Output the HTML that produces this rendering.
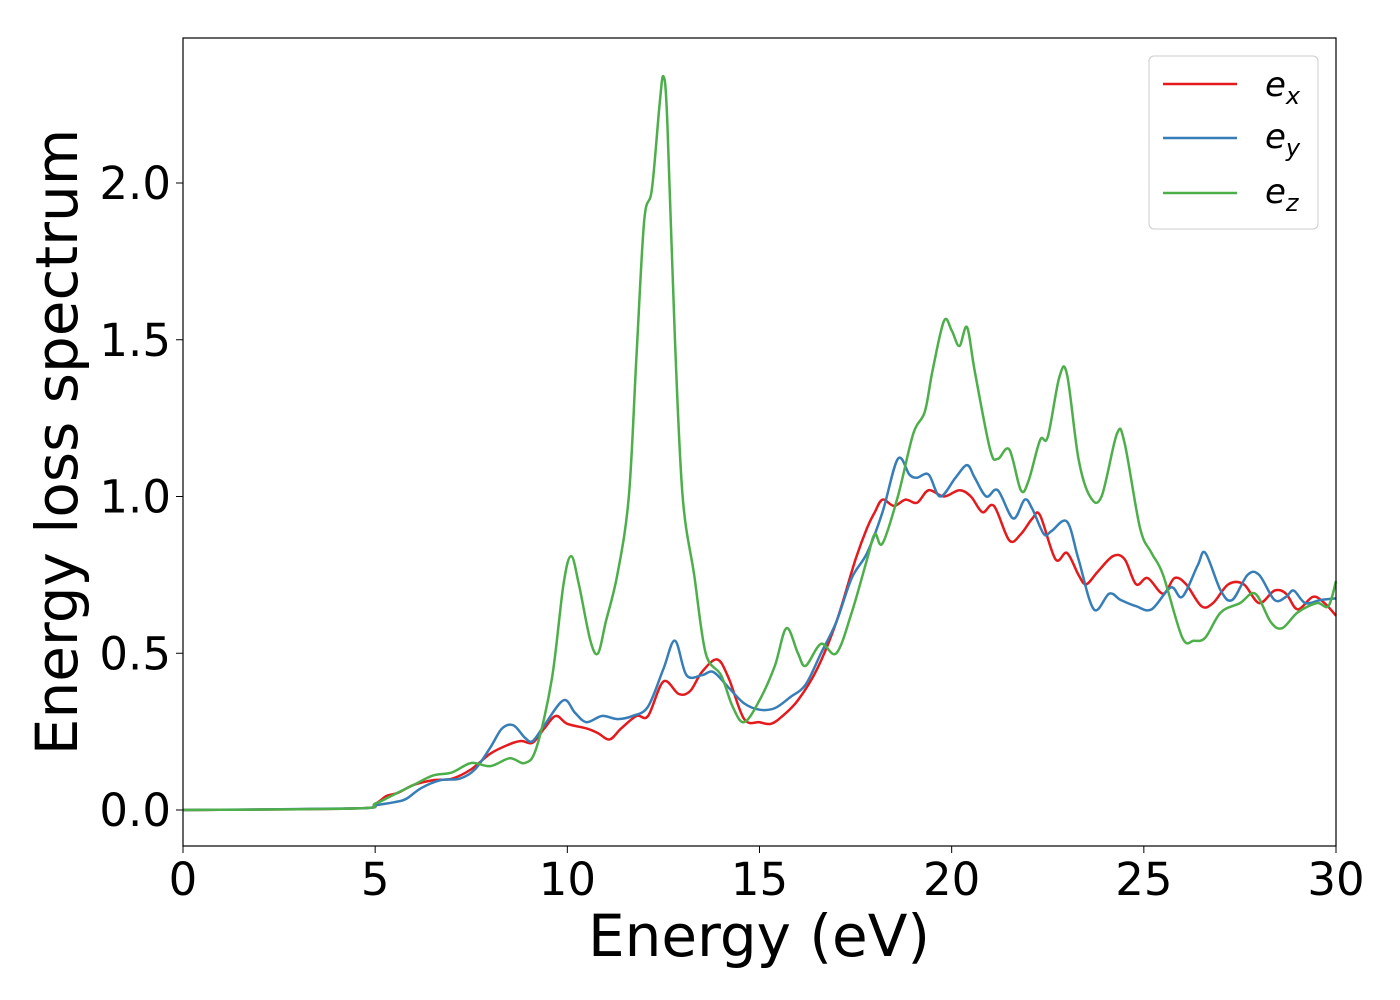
<!DOCTYPE html>
<html><head><meta charset="utf-8"><style>
html,body{margin:0;padding:0;background:#fff;}
svg{display:block;font-family:"DejaVu Sans","Liberation Sans",sans-serif;}
</style></head><body>
<svg id="chart" width="1400" height="1000" viewBox="0 0 1400 1000" xmlns="http://www.w3.org/2000/svg">
<rect x="0" y="0" width="1400" height="1000" fill="#fff"/>
<g id="series"></g>
<rect x="183" y="38" width="1153" height="808" fill="none" stroke="#000" stroke-width="1.2"/>
<g id="xticks"></g>
<g id="yticks"></g>
<text x="759" y="956" font-size="58" text-anchor="middle">Energy (eV)</text>
<text transform="translate(77,442) rotate(-90)" font-size="58" text-anchor="middle">Energy loss spectrum</text>
<g>
<rect x="1149" y="56" width="169" height="173" rx="5" fill="#fff" stroke="#ccc" stroke-width="1"/>
<line x1="1163" y1="84" x2="1237" y2="84" stroke="#e41a1c" stroke-width="2.5"/>
<text x="1265" y="96" font-size="34" font-style="italic">e<tspan font-size="24" dy="8">x</tspan></text>
<line x1="1163" y1="138" x2="1237" y2="138" stroke="#377eb8" stroke-width="2.5"/>
<text x="1265" y="148" font-size="34" font-style="italic">e<tspan font-size="24" dy="8">y</tspan></text>
<line x1="1163" y1="193" x2="1237" y2="193" stroke="#4daf4a" stroke-width="2.5"/>
<text x="1265" y="203" font-size="34" font-style="italic">e<tspan font-size="24" dy="8">z</tspan></text>
</g>
</svg>
<script>
const exE=[0,4.5,5,5.3,5.6,6,6.5,7,7.5,8,8.5,8.8,9.1,9.4,9.7,10,10.5,10.8,11.1,11.4,11.8,12.1,12.5,12.9,13.2,13.5,13.9,14.2,14.6,15,15.3,15.6,16,16.5,17,17.5,17.8,18,18.2,18.5,18.8,19.1,19.4,19.8,20.2,20.5,20.8,21.1,21.5,21.8,22.1,22.3,22.7,23,23.3,23.5,23.8,24.2,24.5,24.8,25.1,25.5,25.8,26.1,26.5,26.8,27.2,27.6,28,28.4,28.7,29,29.4,29.7,30];
const exV=[0,0.005,0.02,0.045,0.055,0.08,0.095,0.1,0.13,0.18,0.21,0.22,0.215,0.26,0.3,0.275,0.26,0.245,0.225,0.26,0.3,0.3,0.41,0.37,0.38,0.44,0.48,0.42,0.29,0.28,0.275,0.3,0.35,0.45,0.6,0.8,0.9,0.95,0.99,0.97,0.99,0.98,1.02,1.0,1.02,1.0,0.95,0.97,0.86,0.88,0.93,0.94,0.8,0.82,0.75,0.72,0.76,0.81,0.8,0.72,0.74,0.69,0.74,0.72,0.65,0.66,0.72,0.72,0.66,0.7,0.69,0.64,0.68,0.66,0.62];
const eyE=[0,4.5,5,5.5,5.8,6.2,6.7,7.2,7.6,8,8.3,8.6,8.9,9.1,9.4,9.9,10.2,10.5,10.9,11.3,11.7,12.1,12.5,12.8,13.1,13.5,13.8,14.2,14.6,15,15.4,15.8,16.2,16.6,17,17.4,17.8,18.2,18.6,18.9,19.1,19.4,19.7,20.1,20.4,20.6,20.9,21.2,21.6,21.9,22.1,22.4,22.6,23,23.3,23.7,24.1,24.4,24.8,25.2,25.7,26,26.4,26.6,27,27.3,27.7,28,28.4,28.7,28.9,29.2,29.6,30];
const eyV=[0,0.005,0.015,0.025,0.035,0.07,0.095,0.1,0.13,0.2,0.26,0.27,0.23,0.22,0.27,0.35,0.31,0.28,0.3,0.29,0.3,0.33,0.45,0.54,0.43,0.43,0.44,0.39,0.34,0.32,0.325,0.36,0.4,0.5,0.6,0.74,0.82,0.95,1.12,1.07,1.06,1.07,1.0,1.06,1.1,1.06,1.0,1.02,0.93,0.99,0.96,0.88,0.89,0.92,0.8,0.64,0.69,0.67,0.65,0.64,0.71,0.68,0.78,0.82,0.7,0.67,0.75,0.75,0.67,0.68,0.7,0.66,0.67,0.675];
const ezE=[0,4.5,5,5.5,6,6.5,7,7.5,8,8.5,8.9,9.2,9.6,9.9,10.1,10.3,10.6,10.8,11,11.3,11.6,11.8,12,12.2,12.4,12.5,12.6,12.8,13,13.3,13.6,14,14.3,14.6,15,15.4,15.7,16,16.2,16.6,17,17.4,17.8,18,18.2,18.6,19,19.3,19.5,19.8,20,20.2,20.4,20.6,21,21.2,21.5,21.8,22,22.3,22.5,22.8,23,23.3,23.6,23.9,24.3,24.5,24.9,25.2,25.5,26,26.3,26.6,27,27.5,27.9,28.3,28.6,29,29.5,29.8,30];
const ezV=[0,0.005,0.02,0.05,0.08,0.11,0.12,0.15,0.14,0.165,0.15,0.2,0.42,0.72,0.81,0.72,0.54,0.5,0.6,0.75,1.0,1.45,1.88,1.98,2.25,2.34,2.2,1.5,1.0,0.75,0.5,0.43,0.33,0.28,0.35,0.46,0.58,0.5,0.46,0.53,0.5,0.63,0.8,0.88,0.85,1.0,1.2,1.27,1.4,1.56,1.53,1.48,1.54,1.4,1.15,1.12,1.15,1.02,1.05,1.18,1.19,1.38,1.39,1.12,1.0,1.0,1.2,1.17,0.9,0.82,0.75,0.55,0.54,0.55,0.63,0.66,0.69,0.6,0.58,0.63,0.66,0.65,0.73];
const xTicks=[0,5,10,15,20,25,30];
const yTicks=[0.0,0.5,1.0,1.5,2.0];
const yTickLabels=["0.0","0.5","1.0","1.5","2.0"];

const NS="http://www.w3.org/2000/svg";
function xs(v){return 183+v*(1153/30);}
function ys(v){return 810-v*313.5;}
function path(E,V){
  const p=E.map((e,i)=>[xs(e),ys(V[i])]);
  let d="M"+p[0][0]+","+p[0][1];
  for(let i=0;i<p.length-1;i++){
    const p0=p[Math.max(0,i-1)],p1=p[i],p2=p[i+1],p3=p[Math.min(p.length-1,i+2)];
    const c1=[p1[0]+(p2[0]-p0[0])/6,p1[1]+(p2[1]-p0[1])/6];
    const c2=[p2[0]-(p3[0]-p1[0])/6,p2[1]-(p3[1]-p1[1])/6];
    d+=" C"+c1+" "+c2+" "+p2;
  }
  return d;
}
const g=document.getElementById("series");
[[exE,exV,"#e41a1c","series-ex"],[eyE,eyV,"#377eb8","series-ey"],[ezE,ezV,"#4daf4a","series-ez"]].forEach(s=>{
  const el=document.createElementNS(NS,"path");
  el.setAttribute("d",path(s[0],s[1]));
  el.setAttribute("fill","none");el.setAttribute("stroke",s[2]);el.setAttribute("stroke-width","2.5");
  
  
  g.appendChild(el);
});
const xg=document.getElementById("xticks");
xTicks.forEach(t=>{
  const l=document.createElementNS(NS,"line");
  l.setAttribute("x1",xs(t));l.setAttribute("x2",xs(t));l.setAttribute("y1",846);l.setAttribute("y2",853);l.setAttribute("stroke","#000");
  
  
  xg.appendChild(l);
  const tx=document.createElementNS(NS,"text");
  tx.setAttribute("x",xs(t));tx.setAttribute("y",895);tx.setAttribute("font-size","45");tx.setAttribute("text-anchor","middle");
  tx.textContent=t;
  
  
  xg.appendChild(tx);
});
const yg=document.getElementById("yticks");
yTicks.forEach((t,i)=>{
  const l=document.createElementNS(NS,"line");
  l.setAttribute("x1",176);l.setAttribute("x2",183);l.setAttribute("y1",ys(t));l.setAttribute("y2",ys(t));l.setAttribute("stroke","#000");
  
  
  yg.appendChild(l);
  const tx=document.createElementNS(NS,"text");
  tx.setAttribute("x",171);tx.setAttribute("y",ys(t)+16);tx.setAttribute("font-size","45");tx.setAttribute("text-anchor","end");
  tx.textContent=yTickLabels[i];
  
  
  yg.appendChild(tx);
});
</script>
</body></html>
